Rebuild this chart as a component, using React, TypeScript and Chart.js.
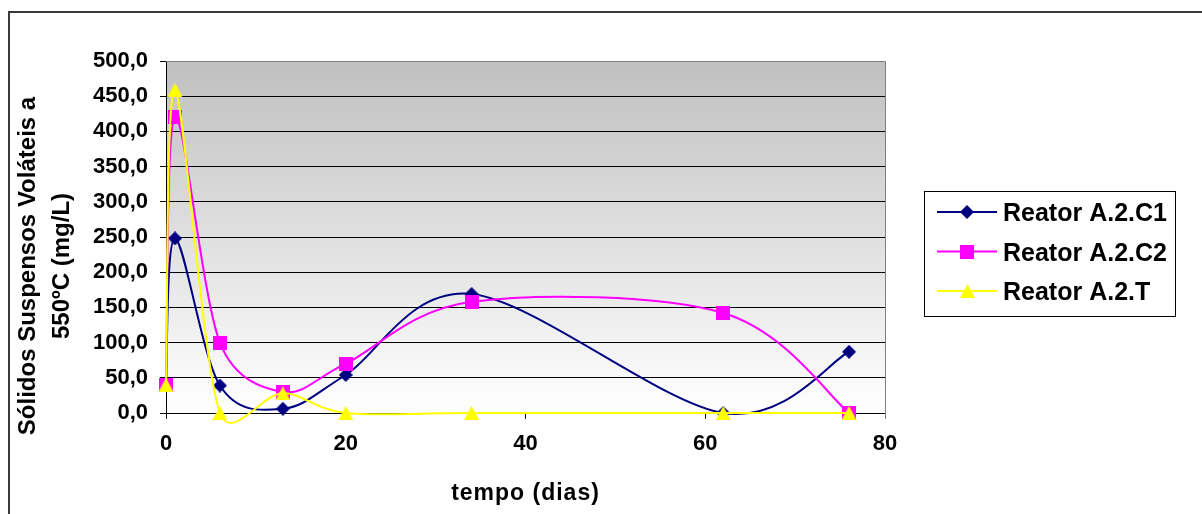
import React, { useEffect, useRef } from 'react';
import { Chart, registerables } from 'chart.js';

Chart.register(...registerables);

// ---- data ----
const days = [0, 1, 6, 13, 20, 34, 62, 76];
const reatorC1 = [40, 248, 39, 6, 54, 169, 0, 87];
const reatorC2 = [40, 420, 100, 30, 70, 158, 142, 0];
const reatorT = [40, 459, 0, 28, 0, 0, 0, 0];
const seriesLabels = ['Reator A.2.C1', 'Reator A.2.C2', 'Reator A.2.T'];
const seriesColors = ['#000080', '#FF00FF', '#FFFF00'];
const yMin = 0;
const yMax = 500;
const yStep = 50;
const xMin = 0;
const xMax = 80;
const xStep = 20;
const xTitle = 'tempo (dias)';
const yTitle = ['Sólidos Suspensos Voláteis a', '550ºC (mg/L)'];

const FONT = "Arial, 'Liberation Sans', sans-serif";

function makeMarker(shape: string, color: string): HTMLCanvasElement {
  const c = document.createElement('canvas');
  const ctx = c.getContext('2d')!;
  if (shape === 'diamond') {
    c.width = 14; c.height = 14;
    ctx.fillStyle = color;
    ctx.beginPath();
    ctx.moveTo(7, 0);
    ctx.lineTo(14, 7);
    ctx.lineTo(7, 14);
    ctx.lineTo(0, 7);
    ctx.closePath();
    ctx.fill();
  } else if (shape === 'square') {
    c.width = 14; c.height = 14;
    ctx.fillStyle = color;
    ctx.fillRect(0, 0, 14, 14);
  } else {
    c.width = 15; c.height = 14;
    ctx.fillStyle = color;
    ctx.beginPath();
    ctx.moveTo(7.5, 0);
    ctx.lineTo(15, 14);
    ctx.lineTo(0, 14);
    ctx.closePath();
    ctx.fill();
  }
  return c;
}

function patchTitle(s: any, spacing: string, dy: number) {
  if (s.__patched) return;
  const orig = s.drawTitle;
  s.drawTitle = function () {
    const c = this.ctx;
    c.save();
    c.translate(0, dy);
    try { c.letterSpacing = spacing; } catch (e) { /* ignore */ }
    orig.call(this);
    c.restore();
  };
  s.__patched = true;
}

// Excel-style smoothing: Bezier control arms of 1/6 of the neighbour chord,
// capped at half of the segment length.
const excelSmooth = {
  id: 'excelSmooth',
  beforeDatasetsDraw(chart: any) {
    chart.data.datasets.forEach((_ds: any, di: number) => {
      const meta = chart.getDatasetMeta(di);
      const line = meta.dataset;
      const pts = meta.data;
      if (!line || !pts || pts.length < 2) return;
      if (line.updateControlPoints) line.updateControlPoints(chart.chartArea, 'x');
      const n = pts.length;
      const dist = (a: any, b: any) => Math.hypot(b.x - a.x, b.y - a.y);
      for (let i = 0; i < n - 1; i++) {
        const p0 = pts[Math.max(0, i - 1)];
        const p1 = pts[i];
        const p2 = pts[i + 1];
        const p3 = pts[Math.min(n - 1, i + 2)];
        const d02 = dist(p0, p2);
        const d12 = dist(p1, p2);
        const d13 = dist(p1, p3);
        let f1 = 1 / 6;
        let f2 = 1 / 6;
        if (d02 > 0 && d02 / 6 > d12 / 2) f1 = d12 / (2 * d02);
        if (d13 > 0 && d13 / 6 > d12 / 2) f2 = d12 / (2 * d13);
        p1.cp2x = p1.x + (p2.x - p0.x) * f1;
        p1.cp2y = p1.y + (p2.y - p0.y) * f1;
        p2.cp1x = p2.x - (p3.x - p1.x) * f2;
        p2.cp1y = p2.y - (p3.y - p1.y) * f2;
      }
      line._path = undefined;
    });
  },
};

export default function App() {
  const ref = useRef<HTMLCanvasElement | null>(null);

  useEffect(() => {
    const canvas = ref.current;
    if (!canvas) return;
    const markers = [
      makeMarker('diamond', seriesColors[0]),
      makeMarker('square', seriesColors[1]),
      makeMarker('triangle', seriesColors[2]),
    ];
    const series = [reatorC1, reatorC2, reatorT];

    const decor = {
      id: 'decor',
      beforeDraw(chart: any) {
        const { ctx, chartArea: a } = chart;
        ctx.save();
        ctx.fillStyle = '#ffffff';
        ctx.fillRect(0, 0, chart.width, chart.height);
        ctx.strokeStyle = '#3a3a3a';
        ctx.lineWidth = 2;
        ctx.strokeRect(9, 12, chart.width + 20, chart.height + 20);
        const g = ctx.createLinearGradient(0, a.top, 0, a.bottom);
        g.addColorStop(0, '#c0c0c0');
        g.addColorStop(1, '#ffffff');
        ctx.fillStyle = g;
        ctx.fillRect(a.left, a.top, a.right - a.left, a.bottom - a.top);
        ctx.restore();
      },
      beforeDatasetsDraw(chart: any) {
        const { ctx, chartArea: a } = chart;
        ctx.save();
        ctx.strokeStyle = '#808080';
        ctx.lineWidth = 1;
        ctx.beginPath();
        ctx.moveTo(a.left, Math.round(a.top) + 0.5);
        ctx.lineTo(Math.round(a.right) + 0.5, Math.round(a.top) + 0.5);
        ctx.lineTo(Math.round(a.right) + 0.5, a.bottom + 6);
        ctx.stroke();
        ctx.restore();
      },
      afterDraw(chart: any) {
        const { ctx } = chart;
        ctx.save();
        ctx.fillStyle = '#ffffff';
        ctx.fillRect(924.5, 191.5, 251, 125);
        ctx.strokeStyle = '#000000';
        ctx.lineWidth = 1;
        ctx.strokeRect(924.5, 191.5, 251, 125);
        chart.data.datasets.forEach((ds: any, i: number) => {
          const cy = 212 + i * 39.5;
          ctx.strokeStyle = ds.borderColor;
          ctx.lineWidth = 2;
          ctx.beginPath();
          ctx.moveTo(937, cy);
          ctx.lineTo(997, cy);
          ctx.stroke();
          const m = markers[i];
          ctx.drawImage(m, Math.round(967 - m.width / 2), Math.round(cy - m.height / 2));
          ctx.fillStyle = '#000000';
          ctx.font = `bold 25px ${FONT}`;
          ctx.textBaseline = 'alphabetic';
          ctx.textAlign = 'left';
          ctx.fillText(ds.label, 1003, 221 + i * 39.5);
        });
        ctx.restore();
      },
    };

    const chart = new Chart(canvas, {
      type: 'line',
      data: {
        datasets: series.map((vals, i) => ({
          label: seriesLabels[i],
          data: days.map((d, j) => ({ x: d, y: vals[j] })),
          borderColor: seriesColors[i],
          backgroundColor: seriesColors[i],
          borderWidth: 2,
          pointStyle: markers[i],
          pointRadius: 7,
          pointHoverRadius: 7,
          tension: 0.3,
          clip: false,
          fill: false,
          order: 2 - i,
        })),
      },
      options: {
        responsive: false,
        animation: false,
        events: [],
        layout: { padding: { left: 0, right: 317, top: 61, bottom: 0 } },
        elements: { line: { capBezierPoints: false } },
        plugins: {
          legend: { display: false },
          tooltip: { enabled: false },
        },
        scales: {
          x: {
            type: 'linear',
            min: xMin,
            max: xMax,
            ticks: {
              stepSize: xStep,
              padding: 12,
              color: '#000',
              font: { family: FONT, size: 22, weight: 'bold' },
            },
            grid: { drawOnChartArea: false, drawTicks: true, tickLength: 6, color: '#000' },
            border: { color: '#000', width: 1 },
            title: {
              display: true,
              text: xTitle,
              color: '#000',
              font: { family: FONT, size: 23, weight: 'bold' },
              padding: { top: 0, bottom: 7 },
            },
            afterFit: (s: any) => { s.height = 101; patchTitle(s, '1px', 0); },
          },
          y: {
            min: yMin,
            max: yMax,
            ticks: {
              stepSize: yStep,
              padding: 12,
              color: '#000',
              font: { family: FONT, size: 22, weight: 'bold' },
              callback: (v: any) => Number(v).toFixed(1).replace('.', ','),
            },
            grid: {
              color: (c: any) => (c.tick && c.tick.value === yMax ? '#808080' : '#000'),
              tickColor: '#000',
              tickLength: 6,
              lineWidth: 1,
            },
            border: { color: '#000', width: 1 },
            title: {
              display: true,
              text: yTitle,
              color: '#000',
              font: { family: FONT, size: 24, weight: 'bold', lineHeight: 1.4 },
              padding: { top: 12, bottom: 0 },
            },
            afterFit: (s: any) => { s.width = 166; patchTitle(s, '0px', 29); },
          },
        },
      },
      plugins: [decor, excelSmooth],
    } as any);

    return () => chart.destroy();
  }, []);

  return (
    <div style={{ position: 'absolute', left: 0, top: 0, width: 1202, height: 514 }}>
      <canvas ref={ref} width={1202} height={514} style={{ display: 'block' }} />
    </div>
  );
}
